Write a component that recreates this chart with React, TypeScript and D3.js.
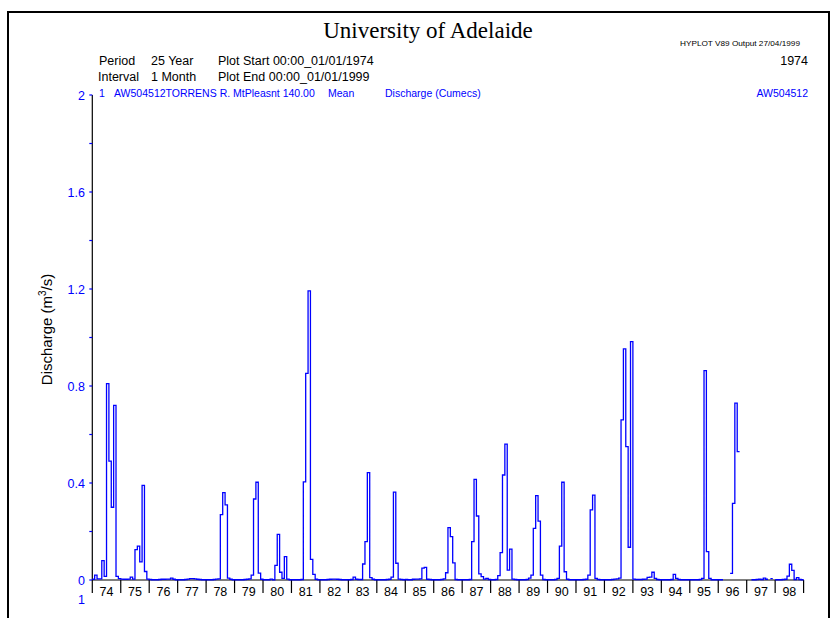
import * as d3 from 'd3'

// Monthly mean discharge (cumecs), Jan 1974 .. Dec 1998, null = missing record
const monthlyDischarge: (number | null)[] = [
  // 1974
  0.003, 0.02, 0.005, 0.005, 0.08, 0.015, 0.81, 0.49, 0.30, 0.72, 0.015, 0.006,
  // 1975
  0.004, 0.003, 0.003, 0.004, 0.012, 0.004, 0.125, 0.14, 0.075, 0.39, 0.035, 0.004,
  // 1976
  0.002, 0.001, 0.001, 0.001, 0.002, 0.003, 0.003, 0.004, 0.004, 0.008, 0.003, 0.001,
  // 1977
  0.001, 0.001, 0.001, 0.002, 0.004, 0.006, 0.006, 0.005, 0.003, 0.002, 0.001, 0.001,
  // 1978
  0.001, 0.001, 0.001, 0.002, 0.004, 0.005, 0.27, 0.36, 0.31, 0.008, 0.003, 0.001,
  // 1979
  0.001, 0.001, 0.001, 0.001, 0.002, 0.003, 0.005, 0.02, 0.334, 0.403, 0.028, 0.003,
  // 1980
  0.001, 0.001, 0.001, 0.004, 0.001, 0.06, 0.188, 0.032, 0.007, 0.096, 0.004, 0.001,
  // 1981
  0.001, 0.001, 0.001, 0.001, 0.002, 0.405, 0.852, 1.192, 0.085, 0.023, 0.003, 0.001,
  // 1982
  0.001, 0.001, 0.001, 0.002, 0.003, 0.004, 0.004, 0.003, 0.002, 0.001, 0.001, 0.001,
  // 1983
  0.001, 0.002, 0.012, 0.003, 0.002, 0.002, 0.066, 0.158, 0.443, 0.01, 0.003, 0.001,
  // 1984
  0.001, 0.001, 0.001, 0.001, 0.002, 0.003, 0.012, 0.362, 0.069, 0.004, 0.002, 0.001,
  // 1985
  0.002, 0.001, 0.001, 0.003, 0.004, 0.004, 0.005, 0.049, 0.052, 0.003, 0.002, 0.001,
  // 1986
  0.001, 0.001, 0.001, 0.002, 0.005, 0.03, 0.216, 0.179, 0.071, 0.002, 0.001, 0.001,
  // 1987
  0.001, 0.001, 0.001, 0.002, 0.158, 0.415, 0.264, 0.025, 0.014, 0.004, 0.007, 0.002,
  // 1988
  0.001, 0.001, 0.002, 0.018, 0.113, 0.433, 0.56, 0.041, 0.127, 0.004, 0.002, 0.001,
  // 1989
  0.001, 0.001, 0.001, 0.002, 0.008, 0.02, 0.213, 0.348, 0.243, 0.02, 0.002, 0.001,
  // 1990
  0.001, 0.001, 0.001, 0.002, 0.007, 0.14, 0.403, 0.034, 0.003, 0.001, 0.001, 0.001,
  // 1991
  0.001, 0.001, 0.001, 0.002, 0.003, 0.02, 0.289, 0.35, 0.007, 0.002, 0.001, 0.001,
  // 1992
  0.001, 0.001, 0.001, 0.002, 0.004, 0.005, 0.008, 0.66, 0.953, 0.55, 0.135, 0.983,
  // 1993
  0.004, 0.002, 0.002, 0.002, 0.003, 0.004, 0.011, 0.012, 0.032, 0.007, 0.002, 0.001,
  // 1994
  0.001, 0.001, 0.001, 0.001, 0.002, 0.023, 0.007, 0.002, 0.001, 0.001, 0.001, 0.001,
  // 1995
  0.001, 0.001, 0.001, 0.001, 0.002, 0.007, 0.863, 0.117, 0.007, 0.001, 0.001, 0.001,
  // 1996
  0.001, 0.001, null, null, null, 0.027, 0.316, 0.729, 0.529, null, null, null,
  // 1997
  null, null, 0.001, 0.001, 0.002, 0.003, 0.002, 0.008, 0.003, null, 0.006, null,
  // 1998
  0.001, 0.001, 0.001, 0.002, 0.003, 0.016, 0.065, 0.04, 0.002, 0.01, 0.002, 0.001,
]

const yearLabels = ['74', '75', '76', '77', '78', '79', '80', '81', '82', '83', '84', '85', '86',
  '87', '88', '89', '90', '91', '92', '93', '94', '95', '96', '97', '98']

const yMajorTicks = [0, 0.4, 0.8, 1.2, 1.6, 2]
const yMinorTicks = [0.2, 0.6, 1.0, 1.4, 1.8]

const sans = '"Liberation Sans", Arial, sans-serif'
const blue = '#0000ff'

export default function App() {
  const width = 833
  const height = 618

  const nMonths = yearLabels.length * 12
  const x = d3.scaleLinear().domain([0, nMonths]).range([92.3, 803.6])
  const y = d3.scaleLinear().domain([0, 2]).range([580, 95])

  // each month holds its value for its whole width (step plot)
  type Pt = { m: number; v: number | null }
  const pts: Pt[] = []
  monthlyDischarge.forEach((v, i) => {
    pts.push({ m: i, v })
    pts.push({ m: i + 1, v })
  })
  const line = d3.line<Pt>()
    .defined(d => d.v != null)
    .x(d => x(d.m))
    .y(d => y(d.v as number))

  const yearTicks = d3.range(0, yearLabels.length + 1).map(k => k * 12)

  return (
    <svg width={width} height={height} style={{ position: 'absolute', left: 0, top: 0, background: '#fff' }}>
      {/* page frame */}
      <rect x={8} y={12} width={821} height={640} fill="none" stroke="#000" strokeWidth={2} />

      {/* header */}
      <text x={428} y={38} textAnchor="middle" fontFamily='"Liberation Serif", "Times New Roman", serif' fontSize={23}>
        University of Adelaide
      </text>
      <text x={680} y={45.5} textLength={120} lengthAdjust="spacingAndGlyphs" fontFamily={sans} fontSize={7.5}>
        HYPLOT V89  Output 27/04/1999
      </text>
      <g fontFamily={sans} fontSize={12.5} fill="#000">
        <text x={99} y={65}>Period</text>
        <text x={151} y={65}>25 Year</text>
        <text x={218} y={65}>Plot Start 00:00_01/01/1974</text>
        <text x={808} y={65} textAnchor="end">1974</text>
        <text x={98} y={80.5}>Interval</text>
        <text x={151} y={80.5}>1 Month</text>
        <text x={218} y={80.5}>Plot End  00:00_01/01/1999</text>
      </g>
      <g fontFamily={sans} fontSize={10.5} fill={blue}>
        <text x={99} y={97}>1</text>
        <text x={114} y={97}>AW504512TORRENS R. MtPleasnt 140.00</text>
        <text x={328} y={97}>Mean</text>
        <text x={385} y={97}>Discharge (Cumecs)</text>
        <text x={808} y={97} textAnchor="end">AW504512</text>
      </g>

      {/* y axis */}
      <line x1={x(0)} x2={x(0)} y1={y(2)} y2={y(0)} stroke="#000" strokeWidth={1.2} />
      {yMajorTicks.concat(yMinorTicks).map(t => (
        <line key={'yt' + t} x1={x(0) - 3} x2={x(0)} y1={y(t)} y2={y(t)} stroke={blue} strokeWidth={1.2} />
      ))}
      {yMajorTicks.map(t => (
        <text key={'yl' + t} x={85} y={y(t) + 4.5} textAnchor="end" fontFamily={sans} fontSize={12.5} fill={blue}>
          {String(t)}
        </text>
      ))}
      <text x={85} y={604} textAnchor="end" fontFamily={sans} fontSize={12.5} fill={blue}>1</text>
      <text transform={`translate(52,${y(1.0) - 8}) rotate(-90)`} textAnchor="middle" fontFamily={sans} fontSize={15}>
        Discharge (m<tspan fontSize={10} dy={-6}>3</tspan><tspan dy={6}>/s)</tspan>
      </text>

      {/* x axis */}
      <line x1={x(0)} x2={x(nMonths)} y1={y(0)} y2={y(0)} stroke="#000" strokeWidth={1.2} />
      {yearTicks.map(m => (
        <line key={'xt' + m} x1={x(m)} x2={x(m)} y1={y(0)} y2={y(0) + 13} stroke="#000" strokeWidth={1.2} />
      ))}
      {yearLabels.map((lab, k) => (
        <text key={lab} x={x(k * 12 + 6)} y={596} textAnchor="middle" fontFamily={sans} fontSize={12.5}>
          {lab}
        </text>
      ))}

      {/* discharge series */}
      <path d={line(pts) ?? ''} fill="none" stroke={blue} strokeWidth={1.3} />
    </svg>
  )
}
